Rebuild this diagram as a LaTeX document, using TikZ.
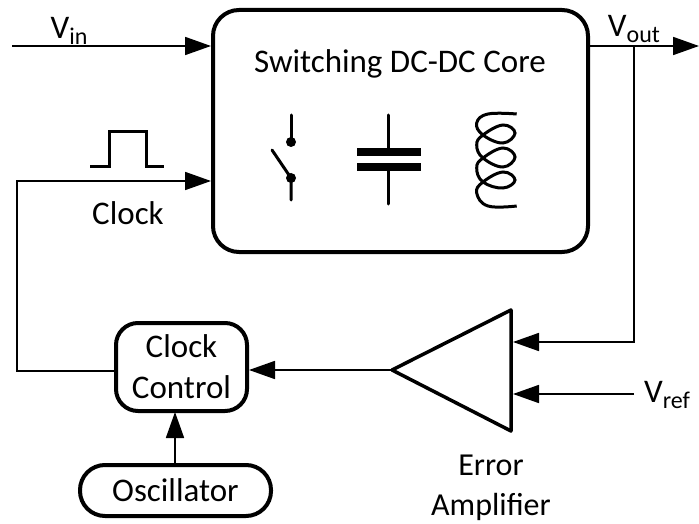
\documentclass[tikz,border=0pt]{standalone}
\usepackage{fontspec}
\setmainfont{Carlito}
\usetikzlibrary{positioning,shapes,arrows.meta}
\tikzset{
	block/.style={draw,line width=4pt,rounded corners=#1,inner sep=0pt,align=center},
	sig/.style={line width=1.8pt,-{Triangle[length=26pt,width=18pt]}},
	part/.style={line width=3pt,line cap=round},
}
\newcommand{\lbl}{\fontsize{33}{41}\selectfont}
\newcommand{\sbs}[1]{\raisebox{-6pt}{\fontsize{24}{24}\selectfont #1}}

\begin{document}
\begin{tikzpicture}[x=1pt,y=-1pt,font=\lbl]
	\useasboundingbox (0,0) rectangle (699,524);

	\node[block=26pt,minimum width=375pt,minimum height=242pt] (core) at (400.5,131) {};
	\node[block=22pt,minimum width=131pt,minimum height=88pt] (ctrl) at (181.5,367) {Clock\\Control};
	\node[block=25pt,minimum width=191pt,minimum height=51pt] (osc) at (175.5,490.5) {Oscillator};

	\node (title) at (400,64) {Switching DC-DC Core};
	\node (clock) at (128,213) {Clock};
	\node[font=\fontsize{32}{40}\selectfont,inner sep=0pt,align=center] (erramp) at (491,488) {Error\\Ampli\kern0ptfier};
	\node (vin) at (69,31) {V\sbs{in}};
	\node (vout) at (634,29) {V\sbs{out}};
	\node (vref) at (667,395) {V\sbs{ref}};

	% amplifier
	\coordinate (apex) at (392,370);
	\coordinate (amptop) at (511,310);
	\coordinate (ampbot) at (511,431);
	\draw[line width=3.5pt,line join=round] (apex) -- (amptop) -- (ampbot) -- cycle;

	% wires
	\coordinate (vinstart) at (12,46);
	\coordinate (vinend) at (211,46);
	\coordinate (voutend) at (699,46);
	\coordinate (branch) at (634,46);
	\coordinate (fbcorner) at (634,342);
	\coordinate (fbend) at (513,342);
	\coordinate (vrefstart) at (634,394);
	\coordinate (vrefend) at (513,394);
	\coordinate (clkend) at (211,181);
	\draw[sig] (vinstart) -- (vinend);
	\draw[sig] (core.east |- voutend) -- (voutend);
	\draw[sig] (branch) -- (fbcorner) -- (fbend);
	\draw[sig] (vrefstart) -- (vrefend);
	\draw[sig] (apex) -- (249,370);
	\draw[sig] (ctrl.west |- 0,371) -- (17,371) -- (17,181) -- (clkend);
	\draw[sig] (osc.north -| 175,0) -- (175,412);

	% clock pulse
	\draw[line width=3pt] (90,167) -- (109,167) -- (109,132) -- (146,132) -- (146,167) -- (164,167);

	% switch
	\draw[part] (291,115) -- (291,142);
	\fill (291,142) circle (5pt);
	\draw[part] (272,150) -- (291,178) -- (291,200);
	\fill (291,178) circle (5pt);

	% capacitor
	\draw[part] (388.5,115) -- (388.5,152);
	\draw[part] (388.5,167) -- (388.5,204);
	\fill (357,148) rectangle (421,156);
	\fill (357,163) rectangle (421,171);

	% inductor
	\draw[line width=3pt] plot[smooth,tension=0.7] coordinates {(516.7,114) (488,114) (476.7,123) (483,135)
		(503,143) (515,133) (503,125) (483,135) (476.7,145) (483,158) (503,167) (515,157) (503,148) (483,158)
		(476.7,168) (483,182) (503,188) (515,180) (503,172) (483,182) (476.7,193) (488,206) (516.7,206)};
\end{tikzpicture}
\end{document}
